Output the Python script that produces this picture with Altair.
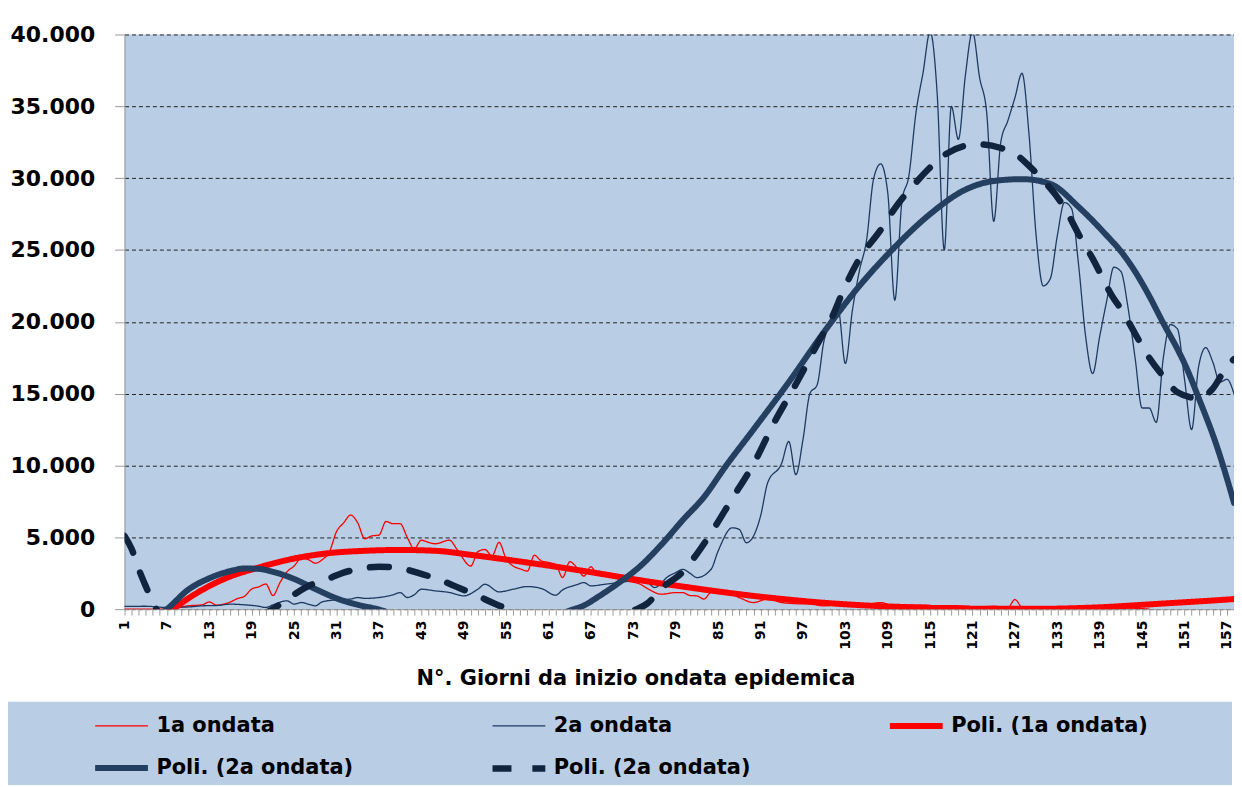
import altair as alt
import pandas as pd

# ---------------- data ----------------
SERIES = ["1a ondata", "2a ondata", "Poli. (1a ondata)", "Poli. (2a ondata)", "Poli. (2a ondata) "]

days_1a = [1, 5, 7, 8, 10, 12, 13, 14, 16, 17, 18, 19, 20, 21, 22, 23, 24, 25, 26, 27, 28, 29, 30,
           31, 32, 33, 34, 35, 36, 37, 38, 39, 40, 41, 42, 43, 44, 45, 47, 48, 50, 51, 52, 53, 54,
           55, 56, 57, 58, 59, 60, 61, 62, 63, 64, 65, 66, 67, 68, 69, 71, 72, 74, 75, 77, 79, 80,
           81, 82, 83, 84, 86, 88, 90, 92, 94, 96, 98, 100, 102, 104, 106, 108, 110, 112, 114, 116,
           118, 120, 122, 124, 126, 127, 128, 130, 133, 136, 140, 143, 146]
vals_1a = [0, 0, 0, 50, 230, 300, 500, 280, 500, 740, 900, 1400, 1550, 1750, 950, 1850, 2600, 3000,
           3550, 3450, 3200, 3450, 4000, 5400, 6000, 6550, 6000, 4900, 5100, 5150, 6100, 5950, 5950,
           5000, 4200, 4800, 4650, 4550, 4800, 4200, 3000, 4000, 4150, 3700, 4650, 3500, 3000, 2800,
           2650, 3750, 3350, 3250, 3100, 2200, 3300, 2900, 2300, 2950, 2350, 2550, 2080, 1960, 1730,
           1430, 1040, 1150, 1150, 950, 920, 700, 1150, 1150, 800, 460, 700, 460, 380, 350, 230, 300,
           250, 300, 460, 185, 280, 277, 231, 250, 200, 150, 200, 100, 670, 150, 80, 60, 150, 120, 80, 0]

days_2a = [1, 4, 7, 10, 12, 14, 16, 18, 20, 21, 22, 24, 25, 26, 27, 28, 29, 31, 33, 34, 35, 37, 39,
           40, 41, 42, 43, 45, 47, 49, 51, 52, 54, 56, 58, 60, 62, 63, 65, 66, 67, 69, 71, 73, 75,
           76, 78, 79, 80, 81, 82, 84, 85, 87, 88, 89, 91, 92, 94, 95, 96, 97, 98, 99, 100, 102, 103,
           104, 105, 106, 107, 108, 109, 110, 111, 112, 113, 114, 115, 116, 117, 118, 119, 120, 121,
           122, 123, 124, 125, 126, 127, 128, 129, 130, 131, 132, 133, 134, 135, 136, 137, 138, 139,
           140, 141, 142, 143, 144, 145, 146, 147, 148, 149, 150, 151, 152, 153, 154, 155, 156, 157, 158]
vals_2a = [185, 200, 115, 150, 231, 250, 347, 300, 200, 115, 300, 578, 347, 462, 350, 231, 508, 647,
           700, 809, 750, 809, 1000, 1155, 809, 1000, 1386, 1271, 1155, 924, 1386, 1733, 1201, 1386,
           1571, 1433, 970, 1340, 1700, 1848, 1618, 1733, 1848, 1964, 1848, 1502, 2300, 2541, 2772,
           2500, 2195, 2773, 4044, 5661, 5546, 4621, 6470, 8780, 10167, 11669, 9358, 11785, 15020,
           15598, 18718, 20798, 17101, 20798, 23571, 25668, 29952, 30991, 29000, 21500, 28336, 30184,
           34575, 37347, 40200, 35846, 25000, 35000, 32700, 37200, 40200, 37000, 34575, 27000, 32500,
           34000, 35600, 37300, 33000, 26000, 22500, 23000, 26000, 28300, 27900, 24000, 19000, 16400,
           19000, 21489, 23800, 23500, 21000, 17500, 14000, 14000, 13000, 17500, 19800, 19500, 16000,
           12500, 16900, 18200, 17200, 15800, 16000, 15000]

days_p1a = [1, 4, 8, 10, 15, 20, 25, 30, 35, 40, 45, 50, 55, 60, 65, 70, 75, 80, 85, 90, 95, 100,
            105, 110, 115, 120, 125, 130, 135, 140, 145, 150, 155, 158]
vals_p1a = [-2300, -1100, 50, 740, 2080, 2900, 3520, 3900, 4060, 4120, 4060, 3780, 3450, 3100, 2730,
            2330, 1930, 1570, 1230, 920, 660, 440, 280, 170, 90, 40, 20, 20, 60, 150, 300, 450, 600, 700]

days_p2a = [1, 4, 7, 10, 13, 16, 18, 20, 22, 25, 28, 31, 34, 37, 40, 45, 50, 55, 60, 64, 66, 68, 71,
            74, 77, 80, 83, 86, 90, 95, 100, 105, 110, 115, 120, 124, 128, 132, 136, 140, 142, 144,
            146, 148, 150, 151, 152, 153, 154, 155, 156, 157, 158]
vals_p2a = [-2200, -1000, 0, 1350, 2150, 2650, 2830, 2800, 2600, 2100, 1400, 750, 300, -30, -500,
            -1100, -1400, -1300, -900, -100, 250, 850, 1850, 3000, 4500, 6200, 7800, 9900, 12500,
            15800, 19300, 22500, 25200, 27500, 29200, 29800, 29930, 29600, 28000, 26000, 24900,
            23500, 21800, 19900, 18100, 17100, 15950, 14700, 13450, 12150, 10700, 9100, 7400]

days_p2b = [1, 2, 3, 4, 5, 6, 9, 13, 17, 20, 22, 24, 27, 30, 32, 34, 37, 40, 43, 45, 48, 51, 53, 55,
            58, 62, 66, 70, 73, 75, 77, 80, 82, 84, 87, 90, 93, 96, 99, 101, 103, 105, 108, 110, 113,
            115, 117, 120, 122, 125, 127, 129, 131, 134, 136, 138, 141, 142, 144, 146, 148, 150, 153,
            155, 157, 158]
vals_p2b = [5100, 4200, 2800, 1600, 500, -400, -1500, -1800, -1300, -500, 0, 690, 1600, 2150, 2540,
            2780, 2950, 2850, 2450, 2150, 1550, 920, 460, 50, -600, -1100, -1200, -700, -100, 400,
            1450, 2600, 3850, 5300, 7700, 10100, 13050, 15650, 18400, 20200, 22500, 24400, 26400,
            27900, 29700, 30750, 31600, 32250, 32350, 32100, 31700, 30850, 29850, 27950, 26110,
            24400, 21600, 20900, 19180, 17500, 16200, 15100, 14673, 15350, 16900, 17400]

y_ticks = [0, 5000, 10000, 15000, 20000, 25000, 30000, 35000, 40000]
x_ticks = list(range(1, 159))

COLORS = ["#FF0000", "#1F3A60", "#FF0000", "#243F60", "#10243E"]
WIDTHS = [1.3, 1.3, 6, 6, 6.5]
DASHES = [[1, 0], [1, 0], [1, 0], [1, 0], [19, 21]]

rows = []
for name, ds, vs in [(SERIES[0], days_1a, vals_1a), (SERIES[1], days_2a, vals_2a),
                     (SERIES[2], days_p1a, vals_p1a), (SERIES[3], days_p2a, vals_p2a),
                     (SERIES[4], days_p2b, vals_p2b)]:
    for d, v in zip(ds, vs):
        rows.append({"giorno": d, "casi": v, "serie": name})
df = pd.DataFrame(rows)

FONT = "DejaVu Sans"

leg = alt.Legend(
    title=None, orient="none", legendX=-33, legendY=664, direction="horizontal", columns=3,
    symbolType="stroke", symbolSize=2809, labelFont=FONT, labelFontWeight="bold",
    labelFontSize=21, labelColor="black", columnPadding=126, rowPadding=-12, labelOffset=5,
    labelExpr="trim(datum.label)", gridAlign="all", padding=0, zindex=2, labelLimit=400,
)

x_axis = alt.Axis(
    values=x_ticks, labelExpr="(datum.value - 1) % 6 == 0 ? datum.label : ''",
    labelAngle=270, labelAlign="right", labelBaseline="middle", labelFont=FONT,
    labelFontWeight="bold", labelFontSize=14, labelColor="black", labelPadding=5,
    labelOverlap=False, labelFlush=False, tickSize=6, tickColor="#9a9a9a", domainColor="#9a9a9a",
    grid=False, title="N°. Giorni da inizio ondata epidemica", titleFont=FONT, titleFontSize=21,
    titleFontWeight="bold", titleColor="black", titleX=513, titleY=76, titleAlign="center",
    titleBaseline="alphabetic",
)
y_axis = alt.Axis(
    values=y_ticks, labelExpr="replace(format(datum.value, ',d'), ',', '.')", labelFont=FONT,
    labelFontWeight="bold", labelFontSize=22, labelColor="black", labelPadding=20,
    tickSize=10, tickColor="#9a9a9a", domainColor="#9a9a9a", grid=True, gridColor="#222222",
    gridDash=[4, 3], gridWidth=1, title=None,
)

base = alt.Chart(df).mark_line(interpolate="monotone", clip=True, strokeCap="round").encode(
    x=alt.X("giorno:Q", scale=alt.Scale(domain=[1, 158], nice=False, zero=False), axis=x_axis),
    y=alt.Y("casi:Q", scale=alt.Scale(domain=[0, 40000], nice=False), axis=y_axis),
    color=alt.Color("serie:N", scale=alt.Scale(domain=SERIES, range=COLORS), legend=leg),
    strokeWidth=alt.StrokeWidth("serie:N", scale=alt.Scale(type="ordinal", domain=SERIES, range=WIDTHS),
                                legend=leg),
    strokeDash=alt.StrokeDash("serie:N", scale=alt.Scale(domain=SERIES, range=DASHES), legend=leg),
)

legend_box = alt.Chart(pd.DataFrame({"k": [0]})).mark_rect(color="#B9CDE5").encode(
    x=alt.value(-120), x2=alt.value(1112), y=alt.value(670), y2=alt.value(790)
)

layers = [legend_box] + [base.transform_filter(alt.datum.serie == s) for s in SERIES]

chart = alt.layer(*layers).properties(
    width=1114, height=577,
    padding={"left": 117, "top": 25, "right": 0, "bottom": 175},
    autosize=alt.AutoSizeParams(type="none"),
).configure(background="white").configure_view(fill="#B9CDE5", strokeWidth=0)

chart.save("out.html", embed_options={"renderer": "svg", "actions": False})
